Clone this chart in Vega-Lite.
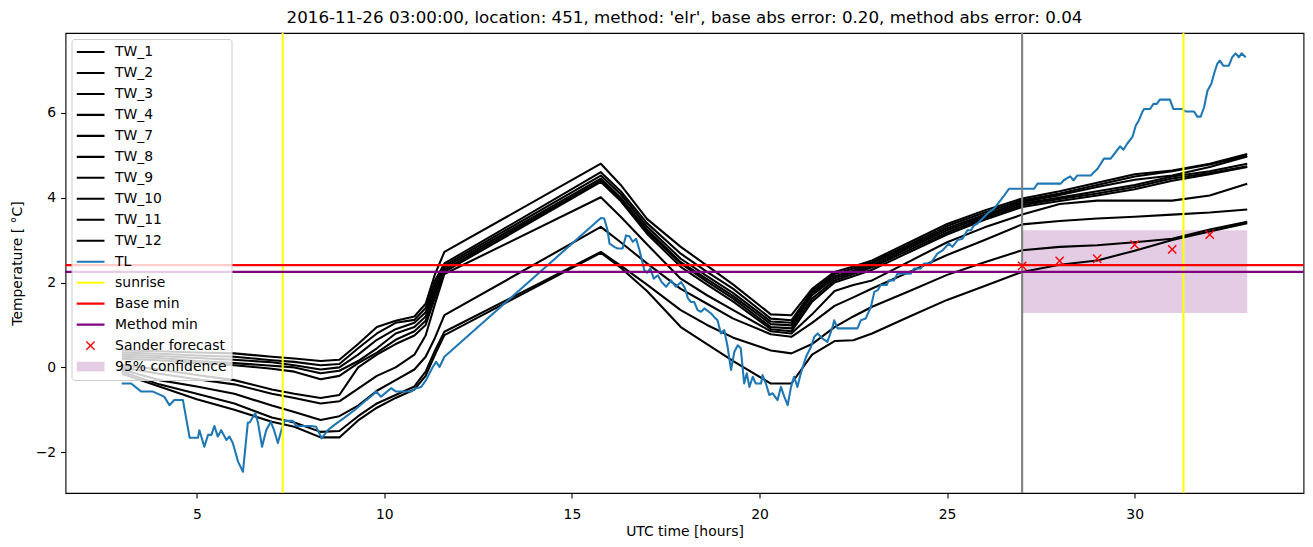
{
"$schema": "https://vega.github.io/schema/vega-lite/v6.json",
"width": 1238, "height": 460,
"autosize": {"type": "none"},
"padding": {"left": 65.5, "top": 33, "right": 9.5, "bottom": 54},
"title": {"text": "2016-11-26 03:00:00, location: 451, method: 'elr', base abs error: 0.20, method abs error: 0.04", "font": "DejaVu Sans", "fontSize": 16.7, "fontWeight": "normal", "color": "black", "offset": 5, "anchor": "middle"},
"config": {
 "font": "DejaVu Sans",
 "view": {"stroke": "black", "strokeWidth": 1.1},
 "axis": {"grid": false, "domain": false, "tickColor": "black", "tickSize": 4.9, "tickWidth": 1.1, "labelColor": "black", "labelFontSize": 13.9, "labelFont": "DejaVu Sans", "labelPadding": 4.9, "titleFont": "DejaVu Sans", "titleFontSize": 13.9, "titleFontWeight": "normal", "titleColor": "black"},
 "axisX": {"titlePadding": 3.5, "labelPadding": 9.5},
 "axisY": {"titlePadding": 11}
},
"datasets": {
"tw": [
{"series":"TW_1","t":3,"v":0.40},{"series":"TW_1","t":4,"v":0.38},{"series":"TW_1","t":5,"v":0.35},{"series":"TW_1","t":6,"v":0.33},{"series":"TW_1","t":7,"v":0.25},{"series":"TW_1","t":7.6,"v":0.21},{"series":"TW_1","t":8.3,"v":0.15},{"series":"TW_1","t":8.8,"v":0.18},{"series":"TW_1","t":9.3,"v":0.55},{"series":"TW_1","t":9.8,"v":0.95},{"series":"TW_1","t":10.3,"v":1.10},{"series":"TW_1","t":10.8,"v":1.20},{"series":"TW_1","t":11.1,"v":1.50},{"series":"TW_1","t":11.35,"v":2.20},{"series":"TW_1","t":11.6,"v":2.72},{"series":"TW_1","t":15.77,"v":4.80},{"series":"TW_1","t":16.3,"v":4.30},{"series":"TW_1","t":17,"v":3.50},{"series":"TW_1","t":17.9,"v":2.84},{"series":"TW_1","t":18.6,"v":2.40},{"series":"TW_1","t":19.3,"v":1.95},{"series":"TW_1","t":20.3,"v":1.25},{"series":"TW_1","t":20.85,"v":1.23},{"series":"TW_1","t":21.4,"v":1.85},{"series":"TW_1","t":22,"v":2.25},{"series":"TW_1","t":22.5,"v":2.38},{"series":"TW_1","t":23,"v":2.52},{"series":"TW_1","t":24,"v":2.95},{"series":"TW_1","t":25,"v":3.38},{"series":"TW_1","t":26,"v":3.70},{"series":"TW_1","t":27,"v":3.98},{"series":"TW_1","t":28,"v":4.15},{"series":"TW_1","t":29,"v":4.35},{"series":"TW_1","t":30,"v":4.55},{"series":"TW_1","t":31,"v":4.64},{"series":"TW_1","t":32,"v":4.80},{"series":"TW_1","t":33,"v":5.03},
{"series":"TW_2","t":3,"v":0.35},{"series":"TW_2","t":4,"v":0.32},{"series":"TW_2","t":5,"v":0.28},{"series":"TW_2","t":6,"v":0.25},{"series":"TW_2","t":7,"v":0.17},{"series":"TW_2","t":7.6,"v":0.13},{"series":"TW_2","t":8.3,"v":0.05},{"series":"TW_2","t":8.8,"v":0.08},{"series":"TW_2","t":9.3,"v":0.45},{"series":"TW_2","t":9.8,"v":0.80},{"series":"TW_2","t":10.3,"v":1.05},{"series":"TW_2","t":10.8,"v":1.12},{"series":"TW_2","t":11.1,"v":1.40},{"series":"TW_2","t":11.35,"v":2.05},{"series":"TW_2","t":11.6,"v":2.45},{"series":"TW_2","t":15.77,"v":4.60},{"series":"TW_2","t":16.3,"v":4.15},{"series":"TW_2","t":17,"v":3.40},{"series":"TW_2","t":17.9,"v":2.68},{"series":"TW_2","t":18.6,"v":2.25},{"series":"TW_2","t":19.3,"v":1.85},{"series":"TW_2","t":20.3,"v":1.15},{"series":"TW_2","t":20.85,"v":1.11},{"series":"TW_2","t":21.4,"v":1.80},{"series":"TW_2","t":22,"v":2.20},{"series":"TW_2","t":22.5,"v":2.33},{"series":"TW_2","t":23,"v":2.48},{"series":"TW_2","t":24,"v":2.90},{"series":"TW_2","t":25,"v":3.33},{"series":"TW_2","t":26,"v":3.65},{"series":"TW_2","t":27,"v":3.94},{"series":"TW_2","t":28,"v":4.10},{"series":"TW_2","t":29,"v":4.30},{"series":"TW_2","t":30,"v":4.50},{"series":"TW_2","t":31,"v":4.62},{"series":"TW_2","t":32,"v":4.78},{"series":"TW_2","t":33,"v":4.99},
{"series":"TW_3","t":3,"v":0.30},{"series":"TW_3","t":4,"v":0.27},{"series":"TW_3","t":5,"v":0.22},{"series":"TW_3","t":6,"v":0.18},{"series":"TW_3","t":7,"v":0.12},{"series":"TW_3","t":7.6,"v":0.05},{"series":"TW_3","t":8.3,"v":-0.05},{"series":"TW_3","t":8.8,"v":0.00},{"series":"TW_3","t":9.3,"v":0.30},{"series":"TW_3","t":9.8,"v":0.65},{"series":"TW_3","t":10.3,"v":0.90},{"series":"TW_3","t":10.8,"v":1.05},{"series":"TW_3","t":11.1,"v":1.30},{"series":"TW_3","t":11.35,"v":1.95},{"series":"TW_3","t":11.6,"v":2.40},{"series":"TW_3","t":15.77,"v":4.52},{"series":"TW_3","t":16.3,"v":4.08},{"series":"TW_3","t":17,"v":3.32},{"series":"TW_3","t":17.9,"v":2.56},{"series":"TW_3","t":18.6,"v":2.15},{"series":"TW_3","t":19.3,"v":1.75},{"series":"TW_3","t":20.3,"v":1.08},{"series":"TW_3","t":20.85,"v":1.05},{"series":"TW_3","t":21.4,"v":1.75},{"series":"TW_3","t":22,"v":2.15},{"series":"TW_3","t":22.5,"v":2.28},{"series":"TW_3","t":23,"v":2.45},{"series":"TW_3","t":24,"v":2.86},{"series":"TW_3","t":25,"v":3.28},{"series":"TW_3","t":26,"v":3.60},{"series":"TW_3","t":27,"v":3.90},{"series":"TW_3","t":28,"v":4.06},{"series":"TW_3","t":29,"v":4.25},{"series":"TW_3","t":30,"v":4.42},{"series":"TW_3","t":31,"v":4.52},{"series":"TW_3","t":32,"v":4.72},{"series":"TW_3","t":33,"v":4.97},
{"series":"TW_4","t":3,"v":0.25},{"series":"TW_4","t":4,"v":0.22},{"series":"TW_4","t":5,"v":0.15},{"series":"TW_4","t":6,"v":0.10},{"series":"TW_4","t":7,"v":0.04},{"series":"TW_4","t":7.6,"v":0.00},{"series":"TW_4","t":8.3,"v":-0.14},{"series":"TW_4","t":8.8,"v":-0.08},{"series":"TW_4","t":9.3,"v":0.15},{"series":"TW_4","t":9.8,"v":0.45},{"series":"TW_4","t":10.3,"v":0.80},{"series":"TW_4","t":10.8,"v":0.95},{"series":"TW_4","t":11.1,"v":1.20},{"series":"TW_4","t":11.35,"v":1.85},{"series":"TW_4","t":11.6,"v":2.35},{"series":"TW_4","t":15.77,"v":4.45},{"series":"TW_4","t":16.3,"v":4.00},{"series":"TW_4","t":17,"v":3.25},{"series":"TW_4","t":17.9,"v":2.48},{"series":"TW_4","t":18.6,"v":2.08},{"series":"TW_4","t":19.3,"v":1.68},{"series":"TW_4","t":20.3,"v":1.02},{"series":"TW_4","t":20.85,"v":0.99},{"series":"TW_4","t":21.4,"v":1.70},{"series":"TW_4","t":22,"v":2.10},{"series":"TW_4","t":22.5,"v":2.24},{"series":"TW_4","t":23,"v":2.40},{"series":"TW_4","t":24,"v":2.82},{"series":"TW_4","t":25,"v":3.23},{"series":"TW_4","t":26,"v":3.56},{"series":"TW_4","t":27,"v":3.86},{"series":"TW_4","t":28,"v":4.00},{"series":"TW_4","t":29,"v":4.15},{"series":"TW_4","t":30,"v":4.30},{"series":"TW_4","t":31,"v":4.50},{"series":"TW_4","t":32,"v":4.62},{"series":"TW_4","t":33,"v":4.80},
{"series":"TW_7","t":3,"v":0.20},{"series":"TW_7","t":4,"v":0.17},{"series":"TW_7","t":5,"v":0.10},{"series":"TW_7","t":6,"v":0.05},{"series":"TW_7","t":7,"v":-0.03},{"series":"TW_7","t":7.6,"v":-0.10},{"series":"TW_7","t":8.3,"v":-0.28},{"series":"TW_7","t":8.8,"v":-0.20},{"series":"TW_7","t":9.3,"v":0.10},{"series":"TW_7","t":9.8,"v":0.35},{"series":"TW_7","t":10.3,"v":0.65},{"series":"TW_7","t":10.8,"v":0.85},{"series":"TW_7","t":11.1,"v":1.10},{"series":"TW_7","t":11.35,"v":1.75},{"series":"TW_7","t":11.6,"v":2.30},{"series":"TW_7","t":15.77,"v":4.40},{"series":"TW_7","t":16.3,"v":3.95},{"series":"TW_7","t":17,"v":3.20},{"series":"TW_7","t":17.9,"v":2.45},{"series":"TW_7","t":18.6,"v":2.02},{"series":"TW_7","t":19.3,"v":1.62},{"series":"TW_7","t":20.3,"v":0.95},{"series":"TW_7","t":20.85,"v":0.92},{"series":"TW_7","t":21.4,"v":1.62},{"series":"TW_7","t":22,"v":2.05},{"series":"TW_7","t":22.5,"v":2.20},{"series":"TW_7","t":23,"v":2.36},{"series":"TW_7","t":24,"v":2.77},{"series":"TW_7","t":25,"v":3.18},{"series":"TW_7","t":26,"v":3.52},{"series":"TW_7","t":27,"v":3.82},{"series":"TW_7","t":28,"v":3.97},{"series":"TW_7","t":29,"v":4.10},{"series":"TW_7","t":30,"v":4.25},{"series":"TW_7","t":31,"v":4.45},{"series":"TW_7","t":32,"v":4.58},{"series":"TW_7","t":33,"v":4.74},
{"series":"TW_8","t":3,"v":0.05},{"series":"TW_8","t":4,"v":-0.05},{"series":"TW_8","t":5,"v":-0.18},{"series":"TW_8","t":6,"v":-0.30},{"series":"TW_8","t":7,"v":-0.52},{"series":"TW_8","t":7.6,"v":-0.62},{"series":"TW_8","t":8.3,"v":-0.72},{"series":"TW_8","t":8.8,"v":-0.65},{"series":"TW_8","t":9.3,"v":0.00},{"series":"TW_8","t":9.8,"v":0.30},{"series":"TW_8","t":10.3,"v":0.55},{"series":"TW_8","t":10.8,"v":0.75},{"series":"TW_8","t":11.1,"v":1.00},{"series":"TW_8","t":11.35,"v":1.65},{"series":"TW_8","t":11.6,"v":2.25},{"series":"TW_8","t":15.77,"v":4.37},{"series":"TW_8","t":16.3,"v":3.92},{"series":"TW_8","t":17,"v":3.15},{"series":"TW_8","t":17.9,"v":2.37},{"series":"TW_8","t":18.6,"v":1.95},{"series":"TW_8","t":19.3,"v":1.55},{"series":"TW_8","t":20.3,"v":0.90},{"series":"TW_8","t":20.85,"v":0.85},{"series":"TW_8","t":21.4,"v":1.55},{"series":"TW_8","t":22,"v":2.00},{"series":"TW_8","t":22.5,"v":2.15},{"series":"TW_8","t":23,"v":2.30},{"series":"TW_8","t":24,"v":2.72},{"series":"TW_8","t":25,"v":3.13},{"series":"TW_8","t":26,"v":3.48},{"series":"TW_8","t":27,"v":3.78},{"series":"TW_8","t":28,"v":3.92},{"series":"TW_8","t":29,"v":4.05},{"series":"TW_8","t":30,"v":4.20},{"series":"TW_8","t":31,"v":4.40},{"series":"TW_8","t":32,"v":4.55},{"series":"TW_8","t":33,"v":4.72},
{"series":"TW_9","t":3,"v":0.00},{"series":"TW_9","t":4,"v":-0.15},{"series":"TW_9","t":5,"v":-0.28},{"series":"TW_9","t":6,"v":-0.40},{"series":"TW_9","t":7,"v":-0.62},{"series":"TW_9","t":7.6,"v":-0.72},{"series":"TW_9","t":8.3,"v":-0.85},{"series":"TW_9","t":8.8,"v":-0.80},{"series":"TW_9","t":9.3,"v":-0.50},{"series":"TW_9","t":9.8,"v":-0.20},{"series":"TW_9","t":10.3,"v":0.00},{"series":"TW_9","t":10.8,"v":0.30},{"series":"TW_9","t":11.1,"v":0.75},{"series":"TW_9","t":11.35,"v":1.50},{"series":"TW_9","t":11.6,"v":2.20},{"series":"TW_9","t":15.77,"v":4.01},{"series":"TW_9","t":16.3,"v":3.55},{"series":"TW_9","t":17,"v":2.90},{"series":"TW_9","t":17.9,"v":2.09},{"series":"TW_9","t":18.6,"v":1.70},{"series":"TW_9","t":19.3,"v":1.35},{"series":"TW_9","t":20.3,"v":0.85},{"series":"TW_9","t":20.85,"v":0.80},{"series":"TW_9","t":21.4,"v":1.25},{"series":"TW_9","t":22,"v":1.80},{"series":"TW_9","t":22.5,"v":1.94},{"series":"TW_9","t":23,"v":2.05},{"series":"TW_9","t":24,"v":2.50},{"series":"TW_9","t":25,"v":2.95},{"series":"TW_9","t":26,"v":3.30},{"series":"TW_9","t":27,"v":3.60},{"series":"TW_9","t":28,"v":3.85},{"series":"TW_9","t":29,"v":3.93},{"series":"TW_9","t":30,"v":3.93},{"series":"TW_9","t":31,"v":3.93},{"series":"TW_9","t":32,"v":4.05},{"series":"TW_9","t":33,"v":4.33},
{"series":"TW_10","t":3,"v":-0.05},{"series":"TW_10","t":4,"v":-0.30},{"series":"TW_10","t":5,"v":-0.45},{"series":"TW_10","t":6,"v":-0.62},{"series":"TW_10","t":7,"v":-0.90},{"series":"TW_10","t":7.6,"v":-1.05},{"series":"TW_10","t":8.3,"v":-1.24},{"series":"TW_10","t":8.8,"v":-1.15},{"series":"TW_10","t":9.3,"v":-0.90},{"series":"TW_10","t":9.8,"v":-0.55},{"series":"TW_10","t":10.3,"v":-0.30},{"series":"TW_10","t":10.8,"v":-0.05},{"series":"TW_10","t":11.1,"v":0.25},{"series":"TW_10","t":11.35,"v":0.70},{"series":"TW_10","t":11.6,"v":1.23},{"series":"TW_10","t":15.77,"v":3.31},{"series":"TW_10","t":16.3,"v":2.95},{"series":"TW_10","t":17,"v":2.45},{"series":"TW_10","t":17.9,"v":1.85},{"series":"TW_10","t":18.6,"v":1.50},{"series":"TW_10","t":19.3,"v":1.15},{"series":"TW_10","t":20.3,"v":0.78},{"series":"TW_10","t":20.85,"v":0.72},{"series":"TW_10","t":21.4,"v":1.05},{"series":"TW_10","t":22,"v":1.45},{"series":"TW_10","t":22.5,"v":1.65},{"series":"TW_10","t":23,"v":1.86},{"series":"TW_10","t":24,"v":2.25},{"series":"TW_10","t":25,"v":2.65},{"series":"TW_10","t":26,"v":3.00},{"series":"TW_10","t":27,"v":3.37},{"series":"TW_10","t":28,"v":3.45},{"series":"TW_10","t":29,"v":3.51},{"series":"TW_10","t":30,"v":3.55},{"series":"TW_10","t":31,"v":3.60},{"series":"TW_10","t":32,"v":3.65},{"series":"TW_10","t":33,"v":3.72},
{"series":"TW_11","t":3,"v":-0.10},{"series":"TW_11","t":4,"v":-0.40},{"series":"TW_11","t":5,"v":-0.62},{"series":"TW_11","t":6,"v":-0.85},{"series":"TW_11","t":7,"v":-1.18},{"series":"TW_11","t":7.6,"v":-1.30},{"series":"TW_11","t":8.3,"v":-1.52},{"series":"TW_11","t":8.8,"v":-1.50},{"series":"TW_11","t":9.3,"v":-1.15},{"series":"TW_11","t":9.8,"v":-0.85},{"series":"TW_11","t":10.3,"v":-0.65},{"series":"TW_11","t":10.8,"v":-0.45},{"series":"TW_11","t":11.1,"v":-0.10},{"series":"TW_11","t":11.35,"v":0.40},{"series":"TW_11","t":11.6,"v":0.84},{"series":"TW_11","t":15.77,"v":2.72},{"series":"TW_11","t":16.3,"v":2.40},{"series":"TW_11","t":17,"v":1.95},{"series":"TW_11","t":17.9,"v":1.35},{"series":"TW_11","t":18.6,"v":1.00},{"series":"TW_11","t":19.3,"v":0.70},{"series":"TW_11","t":20.3,"v":0.40},{"series":"TW_11","t":20.85,"v":0.33},{"series":"TW_11","t":21.4,"v":0.55},{"series":"TW_11","t":22,"v":0.95},{"series":"TW_11","t":22.5,"v":1.20},{"series":"TW_11","t":23,"v":1.43},{"series":"TW_11","t":24,"v":1.80},{"series":"TW_11","t":25,"v":2.18},{"series":"TW_11","t":26,"v":2.48},{"series":"TW_11","t":27,"v":2.76},{"series":"TW_11","t":28,"v":2.84},{"series":"TW_11","t":29,"v":2.88},{"series":"TW_11","t":30,"v":2.95},{"series":"TW_11","t":31,"v":3.03},{"series":"TW_11","t":32,"v":3.25},{"series":"TW_11","t":33,"v":3.43},
{"series":"TW_12","t":3,"v":-0.15},{"series":"TW_12","t":4,"v":-0.45},{"series":"TW_12","t":5,"v":-0.75},{"series":"TW_12","t":6,"v":-1.00},{"series":"TW_12","t":7,"v":-1.28},{"series":"TW_12","t":7.6,"v":-1.40},{"series":"TW_12","t":8.3,"v":-1.65},{"series":"TW_12","t":8.8,"v":-1.65},{"series":"TW_12","t":9.3,"v":-1.25},{"series":"TW_12","t":9.8,"v":-0.95},{"series":"TW_12","t":10.3,"v":-0.72},{"series":"TW_12","t":10.8,"v":-0.52},{"series":"TW_12","t":11.1,"v":-0.20},{"series":"TW_12","t":11.35,"v":0.30},{"series":"TW_12","t":11.6,"v":0.76},{"series":"TW_12","t":15.77,"v":2.70},{"series":"TW_12","t":16.3,"v":2.35},{"series":"TW_12","t":17,"v":1.80},{"series":"TW_12","t":17.9,"v":0.95},{"series":"TW_12","t":18.6,"v":0.55},{"series":"TW_12","t":19.3,"v":0.15},{"series":"TW_12","t":20.3,"v":-0.38},{"series":"TW_12","t":20.85,"v":-0.38},{"series":"TW_12","t":21.4,"v":0.30},{"series":"TW_12","t":22,"v":0.62},{"series":"TW_12","t":22.5,"v":0.64},{"series":"TW_12","t":23,"v":0.80},{"series":"TW_12","t":24,"v":1.20},{"series":"TW_12","t":25,"v":1.59},{"series":"TW_12","t":26,"v":1.92},{"series":"TW_12","t":27,"v":2.25},{"series":"TW_12","t":28,"v":2.42},{"series":"TW_12","t":29,"v":2.52},{"series":"TW_12","t":30,"v":2.75},{"series":"TW_12","t":31,"v":3.00},{"series":"TW_12","t":32,"v":3.20},{"series":"TW_12","t":33,"v":3.40}
],
"tl": [
{"t":3.0,"v":-0.38},{"t":3.25,"v":-0.38},{"t":3.52,"v":-0.57},{"t":3.83,"v":-0.57},{"t":4.13,"v":-0.69},{"t":4.27,"v":-0.89},{"t":4.40,"v":-0.77},{"t":4.63,"v":-0.77},{"t":4.81,"v":-1.66},{"t":5.03,"v":-1.66},{"t":5.07,"v":-1.48},{"t":5.20,"v":-1.87},{"t":5.30,"v":-1.59},{"t":5.39,"v":-1.59},{"t":5.47,"v":-1.38},{"t":5.56,"v":-1.63},{"t":5.65,"v":-1.48},{"t":5.79,"v":-1.71},{"t":5.87,"v":-1.63},{"t":5.96,"v":-1.78},{"t":6.10,"v":-2.22},{"t":6.23,"v":-2.46},{"t":6.36,"v":-1.30},{"t":6.41,"v":-1.30},{"t":6.56,"v":-1.08},{"t":6.63,"v":-1.30},{"t":6.74,"v":-1.87},{"t":6.85,"v":-1.48},{"t":6.97,"v":-1.28},{"t":7.06,"v":-1.48},{"t":7.16,"v":-1.78},{"t":7.27,"v":-1.43},{"t":7.34,"v":-1.26},{"t":7.56,"v":-1.26},{"t":7.65,"v":-1.38},{"t":8.05,"v":-1.38},{"t":8.18,"v":-1.40},{"t":8.33,"v":-1.67},{"t":8.49,"v":-1.48},{"t":8.66,"v":-1.36},{"t":8.93,"v":-1.19},{"t":9.20,"v":-1.01},{"t":9.52,"v":-0.77},{"t":9.69,"v":-0.65},{"t":9.78,"v":-0.57},{"t":9.91,"v":-0.69},{"t":10.18,"v":-0.49},{"t":10.31,"v":-0.57},{"t":10.71,"v":-0.57},{"t":10.85,"v":-0.49},{"t":10.98,"v":-0.46},{"t":11.11,"v":-0.30},{"t":11.29,"v":0.01},{"t":11.38,"v":0.13},{"t":11.47,"v":0.01},{"t":11.60,"v":0.25},{"t":15.77,"v":3.52},{"t":15.86,"v":3.51},{"t":15.95,"v":3.23},{"t":16.0,"v":2.92},{"t":16.13,"v":2.84},{"t":16.22,"v":2.80},{"t":16.35,"v":2.80},{"t":16.44,"v":3.11},{"t":16.53,"v":3.09},{"t":16.62,"v":2.96},{"t":16.71,"v":3.03},{"t":16.80,"v":2.76},{"t":16.93,"v":2.29},{"t":17.0,"v":2.23},{"t":17.09,"v":2.33},{"t":17.18,"v":2.09},{"t":17.29,"v":2.17},{"t":17.39,"v":2.01},{"t":17.51,"v":1.90},{"t":17.64,"v":2.05},{"t":17.77,"v":1.90},{"t":17.91,"v":2.01},{"t":18.01,"v":1.87},{"t":18.09,"v":1.63},{"t":18.17,"v":1.54},{"t":18.26,"v":1.54},{"t":18.35,"v":1.35},{"t":18.44,"v":1.31},{"t":18.53,"v":1.39},{"t":18.71,"v":1.27},{"t":18.79,"v":1.19},{"t":18.88,"v":1.11},{"t":18.97,"v":0.80},{"t":19.06,"v":0.88},{"t":19.15,"v":0.48},{"t":19.24,"v":-0.06},{"t":19.33,"v":0.37},{"t":19.42,"v":0.52},{"t":19.50,"v":0.45},{"t":19.59,"v":-0.38},{"t":19.66,"v":-0.14},{"t":19.73,"v":-0.46},{"t":19.82,"v":-0.22},{"t":19.90,"v":-0.38},{"t":20.04,"v":-0.38},{"t":20.08,"v":-0.18},{"t":20.17,"v":-0.38},{"t":20.26,"v":-0.65},{"t":20.35,"v":-0.61},{"t":20.48,"v":-0.77},{"t":20.57,"v":-0.46},{"t":20.66,"v":-0.69},{"t":20.75,"v":-0.89},{"t":20.84,"v":-0.46},{"t":20.92,"v":-0.22},{"t":21.01,"v":-0.46},{"t":21.10,"v":-0.14},{"t":21.24,"v":0.25},{"t":21.37,"v":0.48},{"t":21.46,"v":0.72},{"t":21.55,"v":0.80},{"t":21.68,"v":0.68},{"t":21.81,"v":0.60},{"t":21.95,"v":0.96},{"t":21.99,"v":1.11},{"t":22.08,"v":0.92},{"t":22.61,"v":0.92},{"t":22.70,"v":1.11},{"t":22.83,"v":1.15},{"t":22.97,"v":1.43},{"t":23.06,"v":1.78},{"t":23.15,"v":1.82},{"t":23.23,"v":1.94},{"t":23.39,"v":1.94},{"t":23.45,"v":2.05},{"t":23.58,"v":2.05},{"t":23.68,"v":2.21},{"t":24.03,"v":2.21},{"t":24.12,"v":2.33},{"t":24.30,"v":2.33},{"t":24.38,"v":2.45},{"t":24.56,"v":2.45},{"t":24.74,"v":2.68},{"t":24.88,"v":2.76},{"t":25.05,"v":2.92},{"t":25.14,"v":2.84},{"t":25.28,"v":3.00},{"t":25.41,"v":3.03},{"t":25.54,"v":3.23},{"t":25.63,"v":3.23},{"t":25.72,"v":3.35},{"t":25.81,"v":3.39},{"t":25.98,"v":3.54},{"t":26.12,"v":3.66},{"t":26.25,"v":3.74},{"t":26.39,"v":3.90},{"t":26.52,"v":4.05},{"t":26.65,"v":4.21},{"t":27.32,"v":4.21},{"t":27.41,"v":4.33},{"t":28.03,"v":4.33},{"t":28.11,"v":4.41},{"t":28.28,"v":4.50},{"t":28.37,"v":4.41},{"t":28.47,"v":4.52},{"t":28.83,"v":4.52},{"t":29.01,"v":4.68},{"t":29.18,"v":4.92},{"t":29.36,"v":4.92},{"t":29.49,"v":5.07},{"t":29.61,"v":5.21},{"t":29.70,"v":5.13},{"t":29.80,"v":5.27},{"t":29.94,"v":5.43},{"t":30.03,"v":5.70},{"t":30.11,"v":5.82},{"t":30.20,"v":6.01},{"t":30.25,"v":6.09},{"t":30.41,"v":6.09},{"t":30.50,"v":6.21},{"t":30.59,"v":6.21},{"t":30.67,"v":6.31},{"t":30.94,"v":6.31},{"t":31.03,"v":6.09},{"t":31.27,"v":6.09},{"t":31.36,"v":6.03},{"t":31.58,"v":6.03},{"t":31.67,"v":5.91},{"t":31.76,"v":5.91},{"t":31.85,"v":6.13},{"t":31.94,"v":6.52},{"t":32.04,"v":6.68},{"t":32.13,"v":6.96},{"t":32.20,"v":7.15},{"t":32.27,"v":7.23},{"t":32.36,"v":7.11},{"t":32.51,"v":7.11},{"t":32.60,"v":7.31},{"t":32.69,"v":7.40},{"t":32.78,"v":7.31},{"t":32.85,"v":7.40},{"t":32.96,"v":7.31}
],
"sunrise": [{"series":"sunrise","t":7.29},{"series":"sunrise","t":31.30}],
"ftime": [{"t":27.0}],
"base": [{"series":"Base min","v":2.41}],
"method": [{"series":"Method min","v":2.25}],
"band": [{"series":"95% confidence","t":27.0,"t2":33.0,"lo":1.28,"hi":3.23}],
"sander": [{"series":"Sander forecast","t":27,"v":2.39},{"series":"Sander forecast","t":28,"v":2.51},{"series":"Sander forecast","t":29,"v":2.56},{"series":"Sander forecast","t":30,"v":2.89},{"series":"Sander forecast","t":31,"v":2.78},{"series":"Sander forecast","t":32,"v":3.13}]
},
"layer": [
{"data": {"name": "band"}, "mark": {"type": "rect", "color": "#e5cce5"},
 "encoding": {
  "x": {"field": "t", "type": "quantitative", "scale": {"domain": [1.5, 34.5], "nice": false, "zero": false}, "axis": {"title": "UTC time [hours]", "values": [5, 10, 15, 20, 25, 30]}},
  "x2": {"field": "t2"},
  "y": {"field": "lo", "type": "quantitative", "scale": {"domain": [-2.96, 7.88], "nice": false, "zero": false}, "axis": {"title": "Temperature [ °C]", "values": [-2, 0, 2, 4, 6]}},
  "y2": {"field": "hi"}}},
{"data": {"name": "tw"}, "mark": {"type": "line", "color": "black", "strokeWidth": 2.08, "strokeJoin": "round"},
 "encoding": {"x": {"field": "t", "type": "quantitative"}, "y": {"field": "v", "type": "quantitative"}, "detail": {"field": "series"}}},
{"data": {"name": "tl"}, "mark": {"type": "line", "color": "#1f77b4", "strokeWidth": 2.08, "strokeJoin": "round"},
 "encoding": {"x": {"field": "t", "type": "quantitative"}, "y": {"field": "v", "type": "quantitative"}}},
{"data": {"name": "sunrise"}, "mark": {"type": "rule", "color": "yellow", "strokeWidth": 2.08},
 "encoding": {"x": {"field": "t", "type": "quantitative"}}},
{"data": {"name": "ftime"}, "mark": {"type": "rule", "color": "gray", "strokeWidth": 2.08},
 "encoding": {"x": {"field": "t", "type": "quantitative"}}},
{"data": {"name": "base"}, "mark": {"type": "rule", "color": "red", "strokeWidth": 2.08},
 "encoding": {"y": {"field": "v", "type": "quantitative"}}},
{"data": {"name": "method"}, "mark": {"type": "rule", "color": "purple", "strokeWidth": 2.08},
 "encoding": {"y": {"field": "v", "type": "quantitative"}}},
{"data": {"name": "sander"}, "mark": {"type": "point", "filled": true, "opacity": 1, "size": 784, "strokeWidth": 0},
 "encoding": {
  "x": {"field": "t", "type": "quantitative"},
  "y": {"field": "v", "type": "quantitative"},
  "color": {"field": "series", "type": "nominal",
   "scale": {"domain": ["TW_1","TW_2","TW_3","TW_4","TW_7","TW_8","TW_9","TW_10","TW_11","TW_12","TL","sunrise","Base min","Method min","Sander forecast","95% confidence"],
             "range": ["black","black","black","black","black","black","black","black","black","black","#1f77b4","yellow","red","purple","red","#e5cce5"]},
   "legend": {"title": null, "orient": "top-left", "offset": 5.5, "padding": 5, "fillColor": "rgba(255,255,255,0.8)", "strokeColor": "#cccccc", "cornerRadius": 3, "labelFont": "DejaVu Sans", "labelFontSize": 13.9, "labelColor": "black", "labelOffset": 10.6, "symbolSize": 784, "symbolStrokeWidth": 0, "symbolOpacity": 1, "clipHeight": 16, "rowPadding": 4.97, "labelLimit": 300}},
  "shape": {"field": "series", "type": "nominal",
   "scale": {"domain": ["TW_1","TW_2","TW_3","TW_4","TW_7","TW_8","TW_9","TW_10","TW_11","TW_12","TL","sunrise","Base min","Method min","Sander forecast","95% confidence"],
             "range": ["M-1,-0.074L1,-0.074L1,0.074L-1,0.074Z","M-1,-0.074L1,-0.074L1,0.074L-1,0.074Z","M-1,-0.074L1,-0.074L1,0.074L-1,0.074Z","M-1,-0.074L1,-0.074L1,0.074L-1,0.074Z","M-1,-0.074L1,-0.074L1,0.074L-1,0.074Z","M-1,-0.074L1,-0.074L1,0.074L-1,0.074Z","M-1,-0.074L1,-0.074L1,0.074L-1,0.074Z","M-1,-0.074L1,-0.074L1,0.074L-1,0.074Z","M-1,-0.074L1,-0.074L1,0.074L-1,0.074Z","M-1,-0.074L1,-0.074L1,0.074L-1,0.074Z","M-1,-0.074L1,-0.074L1,0.074L-1,0.074Z","M-1,-0.074L1,-0.074L1,0.074L-1,0.074Z","M-1,-0.074L1,-0.074L1,0.074L-1,0.074Z","M-1,-0.074L1,-0.074L1,0.074L-1,0.074Z","M-0.261,-0.331L0.331,0.261L0.261,0.331L-0.331,-0.261ZM-0.331,0.261L0.261,-0.331L0.331,-0.261L-0.261,0.331Z","M-1,-0.35L1,-0.35L1,0.35L-1,0.35Z"]},
   "legend": {"title": null, "orient": "top-left", "offset": 5.5, "padding": 5, "fillColor": "rgba(255,255,255,0.8)", "strokeColor": "#cccccc", "cornerRadius": 3, "labelFont": "DejaVu Sans", "labelFontSize": 13.9, "labelColor": "black", "labelOffset": 10.6, "symbolSize": 784, "symbolStrokeWidth": 0, "symbolOpacity": 1, "clipHeight": 16, "rowPadding": 4.97, "labelLimit": 300}}}}
]
}
